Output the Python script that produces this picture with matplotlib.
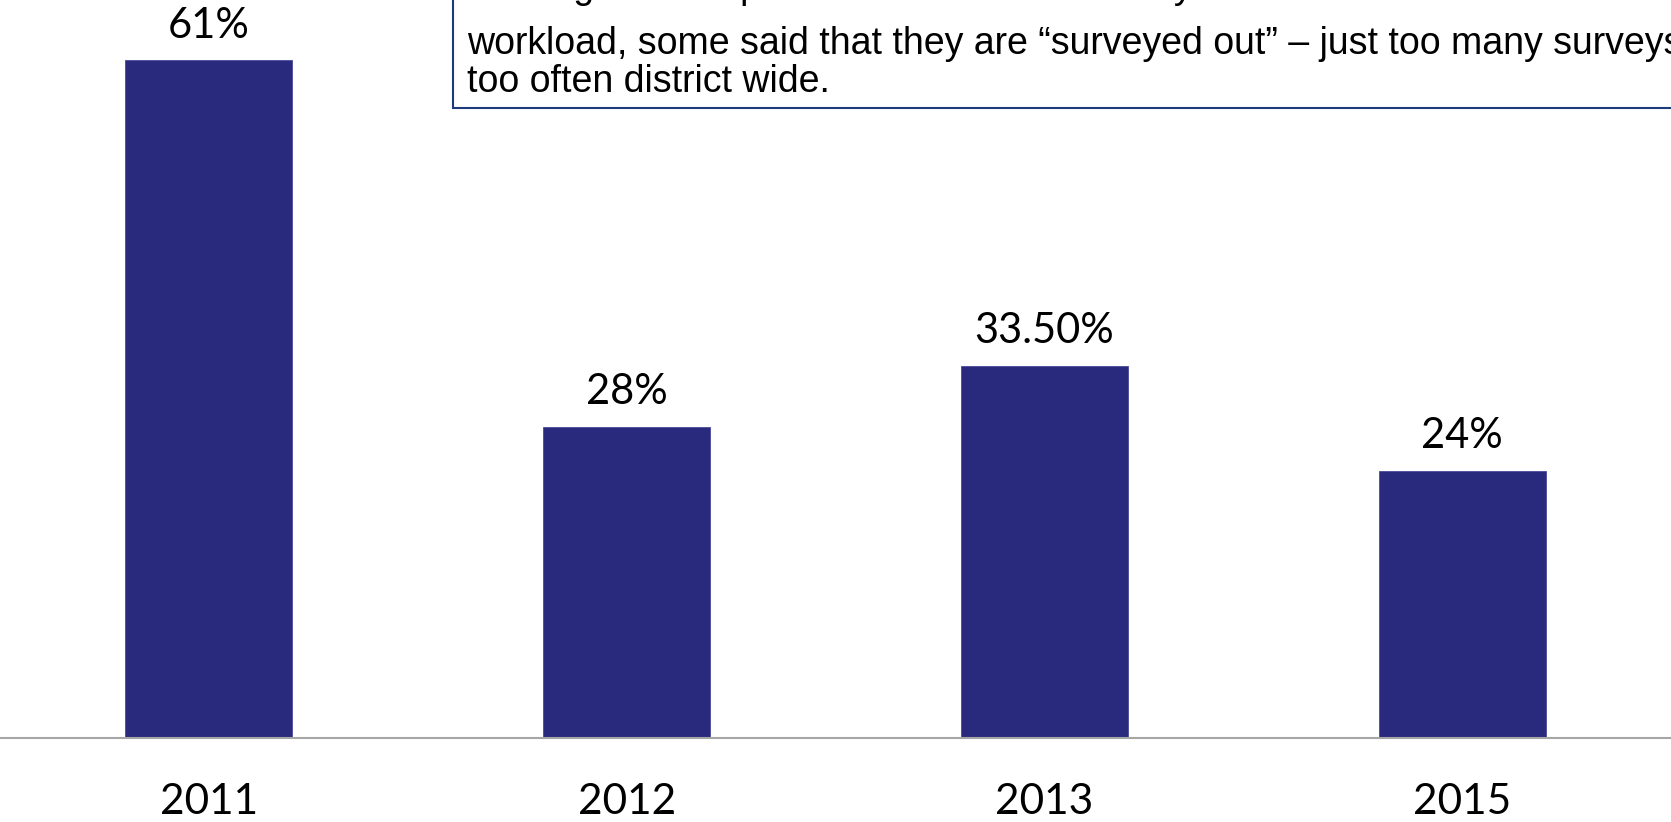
import matplotlib
matplotlib.use("Agg")
import matplotlib.pyplot as plt
from matplotlib.patches import Rectangle

# ---- data ----
years = ["2011", "2012", "2013", "2015"]
rates = [61, 28, 33.5, 24]
rate_labels = ["61%", "28%", "33.50%", "24%"]
note_lines = [
    "Although the response rate was lower this year and teachers cited the heavy",
    "workload, some said that they are \u201csurveyed out\u201d \u2013 just too many surveys",
    "too often district wide.",
]

W, H, DPI = 1671, 822, 100
fig = plt.figure(figsize=(W / DPI, H / DPI), dpi=DPI)
fig.patch.set_facecolor("white")

base_px = 737.5
ax = fig.add_axes([0, 1 - base_px / H, 1, base_px / H])
x = list(range(len(years)))
ax.bar(x, rates, width=0.4, color="#292A7D", edgecolor="#4a4b9a", linewidth=0.6)
ax.set_xlim(-0.5, 3.5)
ax.set_ylim(0, base_px / 11.1)
for s in ["top", "left", "right"]:
    ax.spines[s].set_visible(False)
ax.spines["bottom"].set_color("#A6A6A6")
ax.spines["bottom"].set_linewidth(1.5)
ax.set_xticks([])
ax.set_yticks([])

label_font = "Lato"
for i, (v, lbl) in enumerate(zip(rates, rate_labels)):
    ax.annotate(lbl, xy=(i, v), xytext=(0, 16.3), textcoords="offset points",
                ha="center", va="baseline", fontsize=30, family=label_font,
                color="black")
for i, yr in enumerate(years):
    ax.annotate(yr, xy=(i, 0), xytext=(0, -55.1), textcoords="offset points",
                ha="center", va="baseline", fontsize=30.5, family=label_font,
                color="black", annotation_clip=False)

# ---- note box ----
box_left = 453
box_bottom = 108
rect = Rectangle((box_left / W, 1 - box_bottom / H), 1.0, 0.5,
                 transform=fig.transFigure, facecolor="white",
                 edgecolor="#1F3A7A", linewidth=1.5, zorder=5)
fig.add_artist(rect)
baselines = [-2, 54.5, 91.5]
for line, b in zip(note_lines, baselines):
    fig.text(467 / W, 1 - b / H, line, ha="left", va="baseline",
             fontsize=27, family="Liberation Sans", color="black", zorder=6)

fig.savefig("out.png", dpi=DPI)
